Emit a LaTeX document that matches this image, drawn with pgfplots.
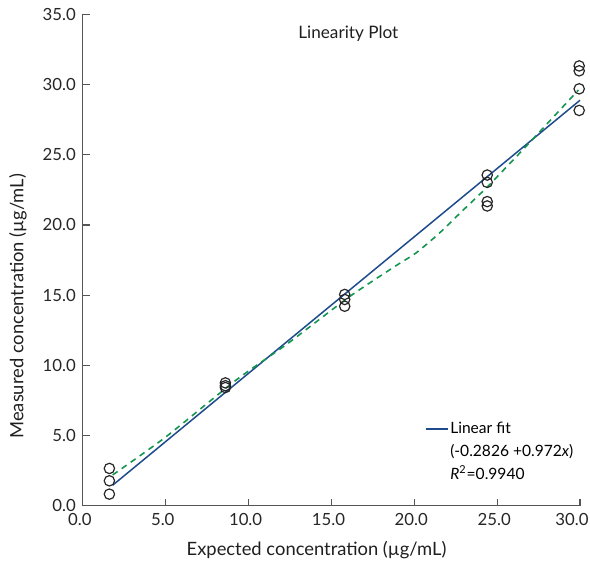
\documentclass[border=0pt]{standalone}
\usepackage{fontspec}
\setmainfont{Lato}
\usepackage{pgfplots}
\pgfplotsset{compat=1.18}

\definecolor{fitblue}{RGB}{30,75,140}
\definecolor{loessgreen}{RGB}{20,150,80}
\definecolor{axisgray}{RGB}{85,85,85}

\begin{document}
\begin{tikzpicture}
\begin{axis}[
    scale only axis,
    width=249pt,
    height=246.2pt,
    xmin=0, xmax=30,
    ymin=0, ymax=35,
    axis lines*=left,
    axis line style={axisgray, line width=0.6pt},
    tick style={axisgray, line width=0.6pt},
    tick align=inside,
    major tick length=3.5pt,
    xtick={0,5,...,30},
    xticklabels={0.0,5.0,10.0,15.0,20.0,25.0,\kern-5pt 30.0},
    ytick={0,5,...,35},
    xticklabel style={font=\fontsize{8.4}{9}\selectfont, text=black!85, xshift=-1.5pt},
    yticklabel style={font=\fontsize{8.4}{9}\selectfont, text=black!85},
    /pgf/number format/assume math mode=true,
    /pgf/number format/.cd, fixed, fixed zerofill, precision=1,
    /pgfplots/.cd,
    xlabel={Expected concentration (µg/mL)},
    ylabel={Measured concentration (µg/mL)},
    xlabel style={font=\fontsize{9.2}{11}\selectfont, text=black!88,
        at={(axis description cs:0.47,-0.090)}, anchor=center},
    ylabel style={font=\fontsize{9.2}{11}\selectfont, text=black!88,
        at={(axis description cs:-0.1305,0.406)}, anchor=center},
    legend style={draw=none, fill=none, at={(axis description cs:0.675,0.185)},
        anchor=north west, font=\fontsize{7.8}{9}\selectfont,
        nodes={inner sep=1pt, text height=6pt, text depth=2pt},
        row sep=1.5pt},
    legend cell align=left,
    legend image code/.code={\draw[#1] (0pt,0pt) -- (11pt,0pt);},
    clip=false,
]

% linear fit
\addplot[fitblue, line width=0.75pt] coordinates {(1.8,1.467) (30,28.877)};
\addlegendentry{Linear fit}
\addlegendimage{empty legend}
\addlegendentry{(-0.2826 +0.972\textit{x})}
\addlegendimage{empty legend}
\addlegendentry{\textit{R}\textsuperscript{2}=0.9940}

% smoothed trend
\addplot[loessgreen, line width=0.8pt, dash pattern=on 3pt off 2.5pt, smooth, tension=0.4, forget plot] coordinates {
    (1.8,2.2) (5,4.9) (9.3,9.0) (12.3,11.5) (16.1,14.9) (18.9,17.1)
    (20.1,18.0) (21.5,19.4) (22.9,21.0) (24.4,22.7) (26.75,25.6) (29.9,29.6)
};

% observations
\addplot[only marks, mark=o, mark size=2.6pt, black!85, mark options={line width=0.6pt}, forget plot] coordinates {
    (1.6,2.66) (1.6,1.78) (1.6,0.83)
    (8.6,8.75) (8.6,8.55) (8.6,8.42)
    (15.8,15.05) (15.8,14.69) (15.8,14.21)
    (24.4,23.55) (24.4,23.03) (24.4,21.66) (24.4,21.35)
    (29.95,31.32) (29.95,30.97) (29.95,29.69) (29.95,28.15)
};

\node[font=\fontsize{8.6}{10}\selectfont, text=black!88] at (axis description cs:0.534,0.961) {Linearity Plot};

\coordinate (bbsw) at (axis description cs:-0.1667,-0.1306);
\coordinate (bbne) at (axis description cs:1.0201,1.029);
\end{axis}
\pgfresetboundingbox
\path[use as bounding box] (bbsw) rectangle (bbne);
\end{tikzpicture}
\end{document}
